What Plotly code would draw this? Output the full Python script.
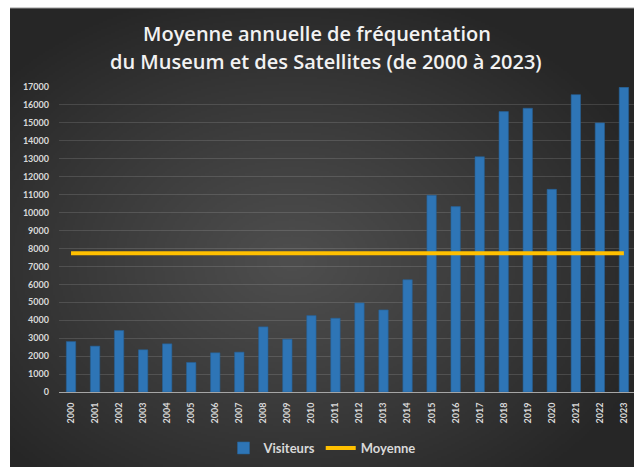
import zlib, struct, base64
import numpy as np
import plotly.graph_objects as go

# ---- data ----
years = [str(y) for y in range(2000, 2024)]
visiteurs = [2810, 2556, 3426, 2352, 2685, 1648, 2185, 2222, 3630, 2944,
             4259, 4111, 4963, 4574, 6259, 10963, 10333, 13111, 15630, 15815,
             11296, 16574, 15000, 16980]
moyenne = [7740, 7740, 7740, 7740, 7740, 7740, 7740, 7740, 7740, 7740,
           7740, 7740, 7740, 7740, 7740, 7740, 7740, 7740, 7740, 7740,
           7740, 7740, 7740, 7740]
y_ticks = list(range(0, 17001, 1000))
title_lines = ["Moyenne annuelle de fréquentation",
               "du Museum et des Satellites (de 2000 à 2023)"]

# ---- background radial gradient as png ----
def png_uri(arr):
    h, w, _ = arr.shape
    raw = b''.join(b'\x00' + arr[i].tobytes() for i in range(h))
    def chunk(t, d):
        c = struct.pack('>I', len(d)) + t + d
        return c + struct.pack('>I', zlib.crc32(t + d) & 0xffffffff)
    png = (b'\x89PNG\r\n\x1a\n'
           + chunk(b'IHDR', struct.pack('>IIBBBBB', w, h, 8, 2, 0, 0, 0))
           + chunk(b'IDAT', zlib.compress(raw, 9))
           + chunk(b'IEND', b''))
    return 'data:image/png;base64,' + base64.b64encode(png).decode()

GW, GH = 312, 230
yy, xx = np.mgrid[0:GH, 0:GW]
cx, cy = GW * 0.45, GH * 0.55
r = np.sqrt(((xx - cx) / (GW * 0.62)) ** 2 + ((yy - cy) / (GH * 0.62)) ** 2)
r = np.clip(r, 0, 1)
v = (78 - 40 * r ** 1.1).astype(np.uint8)
img = np.stack([v, v, v], axis=-1)
bg_uri = png_uri(img)

W, H = 634, 467
L, R, T, B = 59, 0, 87, 75
PW, PH = W - L - R, H - T - B
def px(x):
    return (x - L) / PW
def py(y):
    return 1 - (y - T) / PH

TITLE_FONT = dict(family="Open Sans, Lato, sans-serif", size=20,
                  color="#f2f2f2", weight=600)

fig = go.Figure()
fig.add_trace(go.Bar(
    x=years, y=visiteurs, name="Visiteurs",
    marker=dict(color="#2e75b6", line=dict(color="#275f93", width=0.6)),
))
fig.add_trace(go.Scatter(
    x=years, y=moyenne, name="Moyenne", mode="lines",
    line=dict(color="#ffc000", width=4),
))

fig.update_layout(
    width=W, height=H,
    margin=dict(l=L, r=R, t=T, b=B, autoexpand=False),
    paper_bgcolor="white",
    plot_bgcolor="rgba(0,0,0,0)",
    bargap=0.61,
    font=dict(family="Lato, Open Sans, sans-serif", color="#d9d9d9"),
    title=dict(
        text=title_lines[0],
        x=0.5, xref="container", xanchor="center",
        y=1 - 34 / H, yref="container", yanchor="middle",
        font=TITLE_FONT,
    ),
    annotations=[dict(
        text=title_lines[1], showarrow=False,
        xref="paper", yref="paper", x=px(326), y=py(61.5),
        xanchor="center", yanchor="middle", font=TITLE_FONT,
    )],
    showlegend=True,
    legend=dict(
        orientation="h", x=322 / W, xref="container", xanchor="center",
        y=1 - 448 / H, yref="container", yanchor="middle",
        font=dict(size=13, color="#d9d9d9", weight="bold"),
        bgcolor="rgba(0,0,0,0)", itemwidth=30, traceorder="normal",
    ),
    images=[dict(
        source=bg_uri, xref="paper", yref="paper",
        x=px(10), y=py(8), sizex=px(634) - px(10), sizey=py(8) - py(467),
        xanchor="left", yanchor="top", sizing="stretch", layer="below",
    )],
    shapes=[dict(type="line", xref="paper", yref="paper",
                 x0=px(10), x1=px(634), y0=py(8), y1=py(8),
                 line=dict(color="#9a9a9a", width=1))],
)
fig.update_xaxes(
    range=[-0.5, 23.42], tickangle=-90,
    tickfont=dict(size=9, color="#d9d9d9", weight="bold"),
    showline=True, linecolor="#a6a6a6", linewidth=1,
    showgrid=False, ticks="", ticklabelstandoff=6,
)
fig.update_yaxes(
    range=[0, 17000], tickvals=y_ticks, ticktext=[str(t) for t in y_ticks],
    tickfont=dict(size=9, color="#d9d9d9", weight="bold"),
    showgrid=True, gridcolor="rgba(255,255,255,0.13)", gridwidth=1,
    zeroline=False, ticks="", ticklabelstandoff=9,
)

fig.write_html(
    "out.html",
    config={"displayModeBar": False},
    post_script="document.body.style.margin='0';document.body.style.overflow='hidden';",
)
